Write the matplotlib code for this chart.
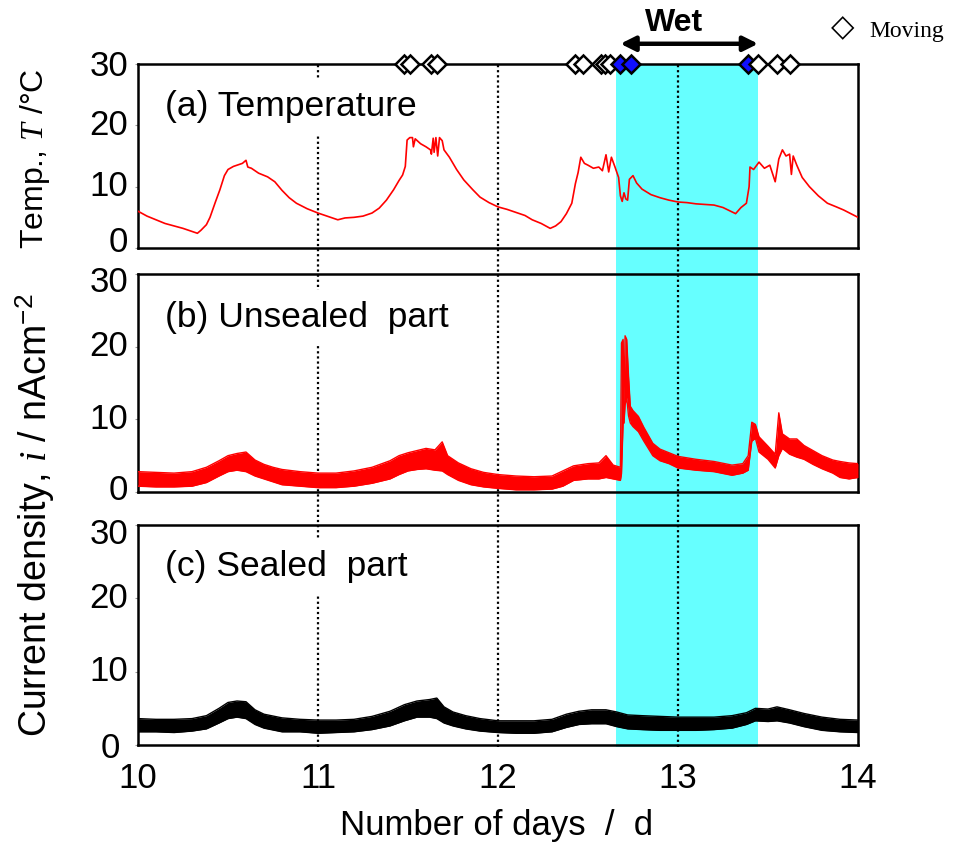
import matplotlib
matplotlib.use('Agg')
import matplotlib.pyplot as plt
from matplotlib.transforms import ScaledTranslation

plt.rcParams['font.family'] = ['Liberation Sans', 'DejaVu Sans']
plt.rcParams['mathtext.fontset'] = 'custom'
plt.rcParams['mathtext.it'] = 'Liberation Serif:italic'
plt.rcParams['mathtext.rm'] = 'Liberation Sans'

# ---------------- data ----------------
x_ticks = [10, 11, 12, 13, 14]
y_ticks = [0, 10, 20, 30]
grid_days = [11, 12, 13]
wet_start, wet_end = 12.655, 13.445

moving_days = [11.48, 11.51, 11.63, 11.66, 12.43, 12.47, 12.57, 12.595, 12.62,
               12.68, 12.74, 13.39, 13.445, 13.55, 13.62]
moving_wet = [False, False, False, False, False, False, False, False, False,
              True, True, True, False, False, False]

temp_days = [10.00, 10.05, 10.10, 10.15, 10.20, 10.25, 10.30, 10.33, 10.35, 10.38,
             10.40, 10.43, 10.455, 10.48, 10.50, 10.53, 10.56, 10.58, 10.60, 10.61,
             10.63, 10.67, 10.72, 10.76, 10.80, 10.84, 10.88, 10.94, 11.00, 11.05,
             11.11, 11.15, 11.20, 11.25, 11.30, 11.34, 11.38, 11.42, 11.45, 11.47,
             11.485, 11.495, 11.51, 11.525, 11.53, 11.54, 11.57, 11.60, 11.625, 11.63,
             11.64, 11.645, 11.655, 11.665, 11.675, 11.69, 11.70, 11.73, 11.77, 11.81,
             11.86, 11.90, 11.95, 12.00, 12.05, 12.10, 12.15, 12.19, 12.24, 12.29,
             12.32, 12.35, 12.38, 12.41, 12.43, 12.445, 12.46, 12.48, 12.50, 12.53,
             12.56, 12.58, 12.60, 12.615, 12.63, 12.65, 12.67, 12.68, 12.69, 12.70,
             12.71, 12.72, 12.73, 12.75, 12.77, 12.80, 12.85, 12.90, 12.95, 13.00,
             13.05, 13.10, 13.15, 13.20, 13.25, 13.30, 13.32, 13.35, 13.38, 13.395,
             13.40, 13.42, 13.45, 13.48, 13.51, 13.54, 13.56, 13.58, 13.60, 13.62,
             13.63, 13.64, 13.66, 13.69, 13.73, 13.78, 13.83, 13.88, 13.92, 13.96,
             14.00]
temp_vals = [6.0, 5.2, 4.6, 4.0, 3.6, 3.2, 2.7, 2.4, 2.9, 3.8,
             5.0, 7.5, 9.5, 11.8, 12.8, 13.3, 13.6, 13.8, 14.3, 13.2,
             13.0, 12.2, 11.6, 10.8, 9.4, 8.2, 7.3, 6.4, 5.7, 5.2,
             4.6, 4.9, 5.0, 5.2, 5.7, 6.5, 7.8, 9.5, 11.0, 11.9,
             13.3, 17.6, 18.0, 18.0, 16.5, 17.8, 17.0, 16.5, 16.0, 15.3,
             17.9, 15.6, 18.0, 15.0, 18.0, 17.5, 16.0, 14.8, 12.8, 11.1,
             9.5, 8.3, 7.4, 6.7, 6.3, 5.8, 5.3, 4.6, 4.0, 3.2,
             3.6, 4.3, 5.6, 7.3, 10.5, 12.3, 14.8, 13.8, 13.5, 13.0,
             13.2, 12.6, 15.2, 12.4, 14.8, 13.2, 11.5, 8.5, 7.6, 9.0,
             8.0, 7.8, 11.2, 11.8, 10.6, 9.6, 8.7, 8.2, 7.8, 7.5,
             7.4, 7.2, 7.1, 7.0, 6.6, 5.9, 5.6, 6.6, 7.3, 10.0,
             13.2, 12.8, 14.0, 13.0, 13.5, 10.8, 14.5, 16.0, 15.0, 15.3,
             12.0, 15.0, 13.5, 11.5, 10.0, 8.5, 7.3, 6.7, 6.2, 5.6,
             5.0]

unsealed_days = [10.00, 10.10, 10.20, 10.30, 10.38, 10.45, 10.50, 10.55, 10.60, 10.65,
                 10.70, 10.75, 10.80, 10.90, 11.00, 11.10, 11.20, 11.30, 11.40, 11.45,
                 11.50, 11.55, 11.60, 11.65, 11.69, 11.72, 11.78, 11.85, 11.92, 12.00,
                 12.10, 12.20, 12.30, 12.36, 12.42, 12.50, 12.56, 12.60, 12.64, 12.68,
                 12.686, 12.695, 12.700, 12.706, 12.715, 12.725, 12.735, 12.75, 12.78, 12.81,
                 12.86, 12.90, 12.95, 13.00, 13.10, 13.20, 13.30, 13.36, 13.39, 13.41,
                 13.43, 13.45, 13.50, 13.54, 13.56, 13.58, 13.62, 13.66, 13.70, 13.75,
                 13.80, 13.86, 13.90, 13.95, 14.00]
unsealed_low = [0.8, 0.7, 0.7, 0.8, 1.3, 2.2, 2.8, 3.0, 2.8, 2.2,
                1.8, 1.4, 1.0, 0.8, 0.6, 0.6, 0.8, 1.2, 1.8, 2.4,
                2.9, 3.1, 3.2, 3.0, 2.9, 2.4, 1.6, 1.0, 0.7, 0.5,
                0.3, 0.3, 0.4, 0.8, 1.6, 1.8, 1.8, 2.0, 1.8, 1.6,
                2.5, 9.5, 9.5, 12.0, 13.0, 10.5, 9.5, 9.0, 8.3, 7.0,
                5.0, 4.3, 3.9, 3.3, 3.0, 2.8, 2.3, 2.6, 3.0, 7.0,
                7.4, 5.5, 4.5, 3.3, 5.0, 6.0, 5.2, 4.8, 4.5, 3.8,
                3.2, 2.6, 2.0, 1.8, 2.0]
unsealed_high = [2.8, 2.7, 2.6, 2.8, 3.4, 4.3, 5.0, 5.3, 5.5, 4.4,
                 3.8, 3.4, 3.1, 2.8, 2.6, 2.6, 2.9, 3.4, 4.3, 5.0,
                 5.4, 5.7, 6.0, 5.8, 6.9, 5.0, 4.0, 3.2, 2.7, 2.4,
                 2.2, 2.1, 2.2, 2.9, 3.6, 3.9, 4.0, 5.0, 3.7, 3.4,
                 20.5, 21.0, 12.0, 21.5, 21.0, 16.0, 11.8, 11.2, 10.4, 8.9,
                 6.7, 5.9, 5.4, 4.9, 4.5, 4.2, 3.7, 3.9, 5.0, 9.6,
                 9.3, 7.6, 6.3, 5.2, 10.9, 8.0, 7.3, 7.3, 6.4, 5.7,
                 5.0, 4.4, 4.2, 4.0, 3.9]

sealed_days = [10.00, 10.10, 10.20, 10.30, 10.38, 10.45, 10.50, 10.55, 10.60, 10.65,
               10.70, 10.80, 10.90, 11.00, 11.10, 11.20, 11.30, 11.40, 11.48, 11.55,
               11.62, 11.66, 11.70, 11.75, 11.82, 11.90, 12.00, 12.10, 12.20, 12.30,
               12.38, 12.45, 12.52, 12.60, 12.66, 12.72, 12.80, 12.90, 13.00, 13.10,
               13.20, 13.30, 13.38, 13.43, 13.50, 13.55, 13.62, 13.70, 13.80, 13.90,
               14.00]
sealed_low = [1.8, 1.8, 1.7, 1.9, 2.2, 3.0, 3.6, 3.8, 3.6, 2.8,
              2.3, 1.8, 1.8, 1.6, 1.7, 1.8, 2.1, 2.6, 3.3, 3.8,
              3.8, 3.6, 3.0, 2.6, 2.2, 1.9, 1.7, 1.6, 1.6, 1.8,
              2.4, 2.8, 2.9, 2.9, 2.5, 2.2, 2.1, 2.0, 2.0, 2.0,
              2.1, 2.3, 2.8, 3.3, 3.2, 3.3, 3.0, 2.5, 2.0, 1.8,
              1.7]
sealed_high = [3.6, 3.5, 3.5, 3.6, 4.0, 5.0, 5.8, 6.0, 5.9, 4.8,
               4.2, 3.7, 3.5, 3.4, 3.4, 3.5, 3.9, 4.6, 5.5, 6.0,
               6.2, 6.4, 5.2, 4.5, 4.0, 3.6, 3.3, 3.3, 3.3, 3.5,
               4.2, 4.6, 4.8, 4.8, 4.5, 4.1, 4.0, 3.9, 3.8, 3.8,
               3.8, 4.0, 4.4, 5.0, 4.9, 5.2, 4.8, 4.3, 3.8, 3.5,
               3.4]

panel_labels = ['(a) Temperature', '(b) Unsealed  part', '(c) Sealed  part']

# ---------------- layout ----------------
W, H = 955, 848
fig = plt.figure(figsize=(W / 100, H / 100), dpi=100)


def fx(px):
    return px / W


def fy(py):
    return 1 - py / H


L, R = 138, 858
panel_px = [(64, 248), (274, 492), (525, 745)]

# background axes spanning all panels: wet band and dotted day lines
ax_bg = fig.add_axes([fx(L), fy(747), fx(R) - fx(L), fy(64) - fy(747)], zorder=0)
ax_bg.set_xlim(x_ticks[0], x_ticks[-1])
ax_bg.set_ylim(0, 1)
ax_bg.axis('off')
ax_bg.axvspan(wet_start, wet_end, color='#66ffff', lw=0)
for d in grid_days:
    ax_bg.axvline(d, color='black', ls=(0, (1, 1.3)), lw=1.6)

# per-panel nudges (in pixels) of the first / last y tick label, as in the original
bottom_shift = [(0, 5), (0, 2), (-8, -3)]
top_shift = [(0, -2), (0, -9), (0, -10)]

axes = []
for k, (t, b) in enumerate(panel_px):
    ax = fig.add_axes([fx(L), fy(b), fx(R) - fx(L), fy(t) - fy(b)], zorder=1)
    ax.set_facecolor('none')
    ax.set_xlim(x_ticks[0], x_ticks[-1])
    ax.set_ylim(y_ticks[0], y_ticks[-1])
    ax.set_xticks(x_ticks)
    ax.set_yticks(y_ticks)
    ax.set_yticklabels([])
    for s in ax.spines.values():
        s.set_linewidth(1.8)
    ax.tick_params(axis='y', length=2, width=0.8, color='#999999')
    ax.tick_params(axis='x', length=0, pad=12, labelsize=25)
    for j, v in enumerate(y_ticks):
        dx, dy = 0, 0
        if j == 0:
            dx, dy = bottom_shift[k]
        elif j == len(y_ticks) - 1:
            dx, dy = top_shift[k]
        tr = ax.get_yaxis_transform() + ScaledTranslation(dx / 100, -dy / 100 * -1, fig.dpi_scale_trans)
        ax.text(-10 / (R - L), v, str(v), transform=tr, ha='right', va='center',
                fontsize=25, clip_on=False)
    axes.append(ax)

ax_a, ax_b, ax_c = axes
ax_a.tick_params(axis='x', labelbottom=False)
ax_b.tick_params(axis='x', labelbottom=False)

# data
ax_a.plot(temp_days, temp_vals, color='#ff0000', lw=1.2, zorder=3)
ax_b.fill_between(unsealed_days, unsealed_low, unsealed_high, color='#ff0000', lw=0, zorder=3)
ax_b.plot(unsealed_days, unsealed_high, color='#ff0000', lw=1.0, zorder=3)
ax_b.plot(unsealed_days, unsealed_low, color='#ff0000', lw=1.0, zorder=3)
ax_c.fill_between(sealed_days, sealed_low, sealed_high, color='black', lw=0, zorder=3)
ax_c.plot(sealed_days, sealed_high, color='black', lw=1.0, zorder=3)
ax_c.plot(sealed_days, sealed_low, color='black', lw=1.0, zorder=3)

# panel labels
label_y = [0.77, 0.80, 0.81]
for ax, lab, ly in zip(axes, panel_labels, label_y):
    ax.text(0.037, ly, lab, transform=ax.transAxes, fontsize=25.5, va='center', ha='left',
            zorder=2, bbox=dict(facecolor='white', edgecolor='none', pad=8))

# moving markers on the top frame
for i, (d, wet) in enumerate(zip(moving_days, moving_wet)):
    ax_a.plot([d], [y_ticks[-1]], marker='D', ms=9.5, mew=1.8, mec='black',
              mfc='#1010ff' if wet else 'white', clip_on=False, zorder=10 + i)

# wet arrow
ax_a.annotate('', xy=(wet_end, 33.3), xytext=(12.68, 33.3),
              arrowprops=dict(arrowstyle='<|-|>', lw=3.2, color='black', mutation_scale=22,
                              shrinkA=0, shrinkB=0),
              annotation_clip=False)
ax_a.text(12.98, 36.7, 'Wet', fontsize=23, fontweight='bold',
          ha='center', va='center', clip_on=False)

# legend-like text
fig.text(fx(843), fy(28), '\u25c7', fontsize=22, family='DejaVu Sans', ha='center', va='center')
fig.text(fx(869), fy(37), 'Moving', fontsize=17, family='Liberation Serif', ha='left', va='baseline')

# axis labels
fig.text(fx(35), fy(159), 'Temp., $\\mathit{T}$ /\u00b0C', rotation=90, fontsize=23,
         ha='center', va='center')
fig.text(fx(35), fy(515), 'Current density, $\\mathit{i}$ / nAcm$^{-2}$', rotation=90,
         fontsize=27, ha='center', va='center')
fig.text(fx(497), fy(825), 'Number of days  /  d', fontsize=25, ha='center', va='center')

fig.savefig('out.png', dpi=100)
